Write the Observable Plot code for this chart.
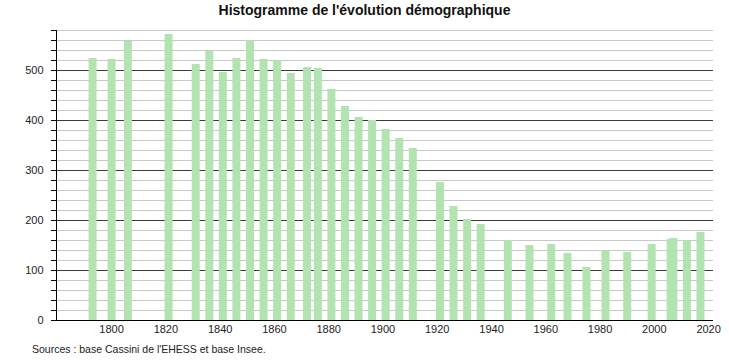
<!DOCTYPE html>
<html><head><meta charset="utf-8">
<script src="https://cdn.jsdelivr.net/npm/d3@7"></script>
<script src="https://cdn.jsdelivr.net/npm/@observablehq/plot@0.6"></script>
<style>
body{margin:0;background:#fff;font-family:"Liberation Sans",Arial,sans-serif;}
#wrap{position:relative;width:729px;height:361px;overflow:hidden;}
#title{position:absolute;top:0;left:0;width:729px;text-align:center;font-weight:bold;font-size:14px;line-height:20px;color:#111;}
#chart{position:absolute;top:22px;left:0;}
#caption{position:absolute;top:342px;left:32px;font-size:10.5px;line-height:14px;color:#222;}
</style></head>
<body>
<div id="wrap">
<div id="title">Histogramme de l'évolution démographique</div>
<div id="chart"></div>
<div id="caption">Sources : base Cassini de l'EHESS et base Insee.</div>
</div>
<script>
const years = [1793,1800,1806,1821,1831,1836,1841,1846,1851,1856,1861,1866,1872,1876,1881,1886,1891,1896,1901,1906,1911,1921,1926,1931,1936,1946,1954,1962,1968,1975,1982,1990,1999,2006,2007,2012,2017];
const population = [524,522,558,572,512,539,496,524,559,522,520,494,506,504,462,428,406,400,382,364,344,276,228,202,192,160,150,152,134,106,139,136,152,162,164,160,176];
const xTicks = [1800,1820,1840,1860,1880,1900,1920,1940,1960,1980,2000,2020];
const yMajor = [0,100,200,300,400,500];
const yMinor = [20,40,60,80,120,140,160,180,220,240,260,280,320,340,360,380,420,440,460,480,520,540,560,580];
const yAll = [0,20,40,60,80,100,120,140,160,180,200,220,240,260,280,300,320,340,360,380,400,420,440,460,480,500,520,540,560,580];
const xDomain = [1779.7, 2021.8];
const yDomain = [0, 580];

const data = years.map((y, i) => ({year: y, pop: population[i]}));

const chart = Plot.plot({
  width: 729,
  height: 320,
  marginLeft: 56,
  marginRight: 16,
  marginTop: 8,
  marginBottom: 22,
  style: {fontSize: "11px", fontFamily: "'Liberation Sans', Arial, sans-serif", color: "#222", background: "#fff"},
  x: {type: "linear", domain: xDomain, label: null},
  y: {domain: yDomain, label: null},
  marks: [
    Plot.ruleY(yMinor, {stroke: "#c8c8c8", strokeWidth: 1}),
    Plot.ruleY(yMajor.filter(d => d > 0), {stroke: "#3a3a3a", strokeWidth: 1}),
    Plot.ruleX(data, {x: "year", y1: 0, y2: "pop", stroke: "#b3e3b0", strokeWidth: 8}),
    Plot.ruleY([yDomain[0]], {stroke: "#000", strokeWidth: 1}),
    Plot.ruleX([xDomain[0]], {y1: yDomain[0], y2: yDomain[1], stroke: "#000", strokeWidth: 1}),
    Plot.axisY({ticks: yAll, tickSize: 5, tickFormat: () => "", stroke: "#000", label: null}),
    Plot.axisY({ticks: yMajor, tickSize: 5, tickPadding: 8, tickFormat: d => String(d), stroke: "#000", label: null}),
    Plot.axisX({ticks: xTicks, tickSize: 0, tickPadding: 5, tickFormat: d => String(d), label: null})
  ]
});
document.getElementById("chart").appendChild(chart);
</script>
</body></html>
